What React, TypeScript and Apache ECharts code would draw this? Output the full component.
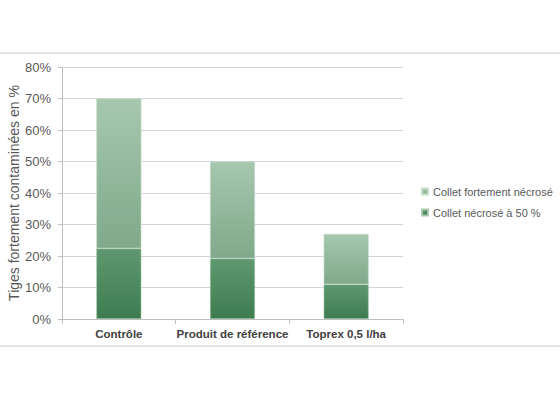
import { useRef, useEffect } from 'react';
import * as echarts from 'echarts';

const categories = ['Contrôle', 'Produit de référence', 'Toprex 0,5 l/ha'];
const seriesNames = ['Collet nécrosé à 50 %', 'Collet fortement nécrosé'];
const necrose50 = [22.4, 19.2, 11];
const fortement = [47.6, 30.8, 16];
const yTicks = [0, 10, 20, 30, 40, 50, 60, 70, 80];

const grad = (top: string, bottom: string) =>
    new echarts.graphic.LinearGradient(0, 0, 0, 1, [
        { offset: 0, color: top },
        { offset: 1, color: bottom }
    ]);

const App = () => {
    const chartRef = useRef<HTMLDivElement>(null);

    useEffect(() => {
        if (!chartRef.current) return;
        const chart = echarts.init(chartRef.current, null, { renderer: 'svg' });
        const font = '"Liberation Sans", Arial, sans-serif';
        chart.setOption({
            animation: false,
            textStyle: { fontFamily: font },
            grid: { left: 62, right: 157, top: 67, bottom: 81, containLabel: false, outerBoundsMode: 'none' },
            legend: {
                orient: 'vertical',
                left: 416,
                top: 181,
                itemWidth: 6,
                itemHeight: 6,
                itemGap: 10,
                icon: 'rect',
                data: [seriesNames[1], seriesNames[0]],
                textStyle: { color: '#595959', fontSize: 11, fontFamily: font }
            },
            graphic: [
                { type: 'line', shape: { x1: 0, y1: 53, x2: 560, y2: 53 }, style: { stroke: '#c8c8c8', lineWidth: 1 } },
                { type: 'line', shape: { x1: 0, y1: 346, x2: 560, y2: 346 }, style: { stroke: '#c8c8c8', lineWidth: 1 } }
            ],
            xAxis: {
                type: 'category',
                data: categories,
                axisLine: { lineStyle: { color: '#bfbfbf' } },
                axisTick: { show: true, length: 5, lineStyle: { color: '#bfbfbf' } },
                axisLabel: { interval: 0, color: '#404040', fontSize: 11.5, fontWeight: 'bold', margin: 9 }
            },
            yAxis: {
                type: 'value',
                min: yTicks[0],
                max: yTicks[yTicks.length - 1],
                interval: 10,
                name: 'Tiges fortement contaminées en %',
                nameLocation: 'middle',
                nameGap: 41,
                nameMoveOverlap: false,
                nameTextStyle: { color: '#595959', fontSize: 14 },
                axisLine: { show: true, lineStyle: { color: '#bfbfbf' } },
                axisTick: { show: true, length: 4, lineStyle: { color: '#bfbfbf' } },
                axisLabel: { color: '#595959', fontSize: 13, margin: 11, formatter: '{value}%' },
                splitLine: { lineStyle: { color: '#d4d4d4' } }
            },
            series: [
                {
                    name: seriesNames[0],
                    type: 'bar',
                    stack: 'total',
                    barWidth: 45,
                    data: necrose50,
                    itemStyle: {
                        color: grad('#5f9870', '#3d7c50'),
                        borderColor: '#a7c7af',
                        borderWidth: 0.6
                    }
                },
                {
                    name: seriesNames[1],
                    type: 'bar',
                    stack: 'total',
                    barWidth: 45,
                    data: fortement,
                    itemStyle: {
                        color: grad('#a6c7ae', '#80a98b'),
                        borderColor: '#c6ddcb',
                        borderWidth: 0.6
                    }
                }
            ]
        });
        return () => {
            chart.dispose();
        };
    }, []);

    return (
        <div ref={chartRef} style={{ position: 'absolute', left: 0, top: 0, width: 560, height: 400, background: '#fff' }} />
    );
};

export default App;
